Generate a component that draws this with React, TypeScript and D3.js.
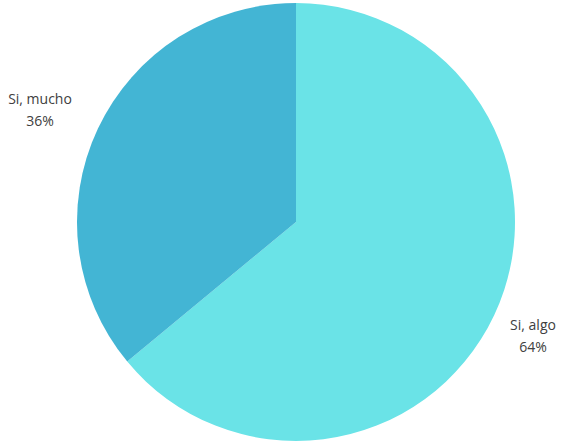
import React from "react";
import * as d3 from "d3";

const categories = ["Si, algo", "Si, mucho"];
const values = [64, 36];
const colors = ["#6ae3e7", "#43b5d4"];

export default function App() {
  const width = 564;
  const height = 444;
  const cx = 296;
  const cy = 222;
  const r = 219;
  const pie = d3.pie<number>().sort(null).value((d) => d);
  const arcs = pie(values);
  const arc = d3.arc<d3.PieArcDatum<number>>().innerRadius(0).outerRadius(r);
  const labelPos = [
    { x: 533, y: 330 },
    { x: 40, y: 104 },
  ];
  return (
    <svg width={width} height={height} style={{ position: "absolute", left: 0, top: 0 }}>
      <rect width={width} height={height} fill="#ffffff" />
      <g transform={`translate(${cx},${cy})`}>
        {arcs.map((a, i) => (
          <path key={i} d={arc(a) || ""} fill={colors[i]} />
        ))}
      </g>
      {arcs.map((a, i) => (
        <text
          key={i}
          x={labelPos[i].x}
          y={labelPos[i].y}
          textAnchor="middle"
          fontFamily="'Open Sans', sans-serif"
          fontSize={14}
          fill="#404040"
        >
          <tspan x={labelPos[i].x}>{categories[i]}</tspan>
          <tspan x={labelPos[i].x} dy={22}>
            {values[i]}%
          </tspan>
        </text>
      ))}
    </svg>
  );
}
